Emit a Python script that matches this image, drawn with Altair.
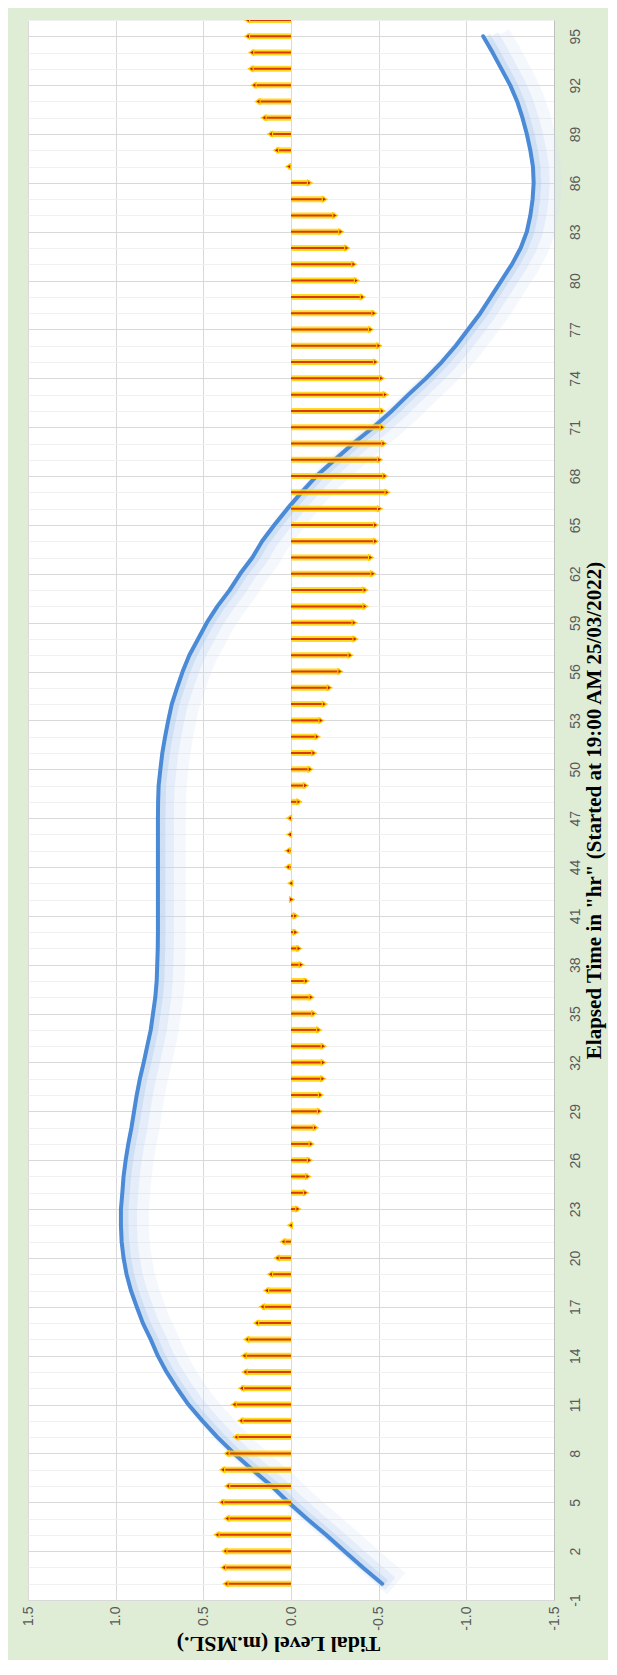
import altair as alt
import pandas as pd

# ---- data ----
hours = list(range(0, 96))
tidal_level = [
    -0.52, -0.41, -0.305, -0.20, -0.09, 0.015, 0.11, 0.22, 0.325, 0.42,
    0.505, 0.585, 0.65, 0.71, 0.76, 0.80, 0.845, 0.88, 0.913, 0.938,
    0.955, 0.966, 0.97, 0.97, 0.962, 0.955, 0.943, 0.928, 0.91, 0.895,
    0.88, 0.862, 0.84, 0.82, 0.80, 0.787, 0.774, 0.766, 0.763, 0.76,
    0.759, 0.759, 0.759, 0.759, 0.759, 0.759, 0.759, 0.759, 0.758, 0.755,
    0.745, 0.734, 0.718, 0.70, 0.68, 0.65, 0.618, 0.58, 0.53, 0.48,
    0.42, 0.35, 0.29, 0.22, 0.165, 0.095, 0.02, -0.06, -0.145, -0.25,
    -0.355, -0.47, -0.575, -0.67, -0.77, -0.86, -0.94, -1.01, -1.08, -1.14,
    -1.20, -1.26, -1.31, -1.345, -1.365, -1.378, -1.384, -1.38, -1.365, -1.345,
    -1.32, -1.29, -1.25, -1.20, -1.15, -1.096,
]

vector_hours = list(range(0, 97))
vector_value = [
    0.373, 0.386, 0.379, 0.424, 0.367, 0.397, 0.363, 0.392, 0.367, 0.316,
    0.288, 0.326, 0.284, 0.264, 0.269, 0.254, 0.198, 0.166, 0.141, 0.119,
    0.081, 0.047, 0.005, -0.041, -0.085, -0.098, -0.107, -0.117, -0.141, -0.164,
    -0.17, -0.183, -0.186, -0.186, -0.16, -0.132, -0.117, -0.089, -0.06, -0.047,
    -0.028, -0.028, -0.005, 0.003, 0.02, 0.02, 0.01, 0.01, -0.047, -0.085,
    -0.111, -0.132, -0.151, -0.173, -0.192, -0.22, -0.281, -0.339, -0.367, -0.362,
    -0.424, -0.424, -0.469, -0.456, -0.484, -0.484, -0.507, -0.55, -0.537, -0.507,
    -0.531, -0.522, -0.522, -0.54, -0.518, -0.484, -0.503, -0.456, -0.475, -0.409,
    -0.375, -0.36, -0.32, -0.286, -0.252, -0.192, -0.107, 0.015, 0.085, 0.119,
    0.156, 0.19, 0.213, 0.23, 0.226, 0.25, 0.25,
]

level_ticks = [-1.5, -1.0, -0.5, 0.0, 0.5, 1.0, 1.5]
hour_ticks = list(range(-1, 97))

x_title = "Tidal Level (m.MSL.)"
y_title = 'Elapsed Time in "hr" (Started at 19:00 AM 25/03/2022)'

tide = pd.DataFrame({"t": hours, "level": tidal_level})
vec = pd.DataFrame({"t": vector_hours, "v": vector_value})
vec["base"] = 0.0
vec["dir"] = ["left" if v >= 0 else "right" for v in vector_value]

W, H = 526, 1580

x_scale = alt.Scale(domain=[-1.5, 1.5], reverse=True, nice=False, zero=False)
y_scale = alt.Scale(domain=[-1, 96], nice=False, zero=False)

x_axis = alt.Axis(
    values=level_ticks, orient="bottom", title=x_title,
    labelExpr="datum.value < 0 ? '-' + format(-datum.value, '.1f') : format(datum.value, '.1f')",
    labelAngle=270, labelAlign="right", labelBaseline="middle", labelPadding=6,
    labelFlush=False, labelOverlap=False,
    labelFont="Liberation Sans", labelFontSize=14, labelColor="#595959",
    ticks=False, domain=False, grid=True, gridColor="#d9d9d9", gridWidth=1,
    titleFont="Liberation Serif", titleFontSize=22, titleFontWeight="bold",
    titleColor="#000000", titleAngle=180, titleAlign="center", titleBaseline="middle",
    titleX=250, titleY=43,
)

y_axis = alt.Axis(
    values=hour_ticks, orient="right", title=y_title,
    labelExpr="(datum.value + 1) % 3 == 0 ? (datum.value < 0 ? '-' + abs(datum.value) : '' + datum.value) : ''",
    labelAngle=270, labelAlign="center", labelBaseline="top", labelPadding=14,
    labelFlush=False, labelOverlap=False,
    labelFont="Liberation Sans", labelFontSize=14, labelColor="#595959",
    ticks=False, domain=True, domainColor="#bfbfbf", domainWidth=1,
    grid=True,
    gridColor={"condition": {"test": "(datum.value + 1) % 3 == 0", "value": "#d9d9d9"},
               "value": "#f0f0f0"},
    gridWidth=1,
    titleFont="Liberation Serif", titleFontSize=21, titleFontWeight="bold",
    titleColor="#000000", titleAngle=270, titleAlign="center", titleBaseline="middle",
    titleX=40, titleY=H / 2,
)


def X(field):
    return alt.X(field, type="quantitative", scale=x_scale, axis=x_axis)


def Y(field):
    return alt.Y(field, type="quantitative", scale=y_scale, axis=y_axis)


tide_base = alt.Chart(tide)

glow_wide = tide_base.mark_line(
    color="#cfdff3", strokeWidth=28, opacity=0.22, xOffset=14,
    strokeCap="butt", strokeJoin="round"
).encode(x=X("level"), y=Y("t"), order="t:Q")

glow_mid = tide_base.mark_line(
    color="#bcd2ef", strokeWidth=16, opacity=0.28, xOffset=8,
    strokeCap="butt", strokeJoin="round"
).encode(x=X("level"), y=Y("t"), order="t:Q")

glow_core = tide_base.mark_line(
    color="#a9c6ec", strokeWidth=9, opacity=0.35, xOffset=3,
    strokeCap="butt", strokeJoin="round"
).encode(x=X("level"), y=Y("t"), order="t:Q")

main_line = tide_base.mark_line(
    color="#4a8ad6", strokeWidth=4, strokeCap="round", strokeJoin="round"
).encode(x=X("level"), y=Y("t"), order="t:Q")

vec_base = alt.Chart(vec)

yellow_rule = vec_base.mark_rule(color="#ffd400", strokeWidth=6, opacity=0.85, clip=True).encode(
    x=X("base"), x2="v:Q", y=Y("t")
)
red_rule = vec_base.mark_rule(color="#d83b01", strokeWidth=2, clip=True).encode(
    x=X("base"), x2="v:Q", y=Y("t")
)
heads = vec_base.mark_point(
    filled=True, fill="#c41a00", stroke="#ffcc00", strokeWidth=1.2, size=30, opacity=1, clip=True
).encode(
    x=X("v"), y=Y("t"),
    shape=alt.Shape("dir:N", scale=alt.Scale(domain=["left", "right"],
                                             range=["triangle-left", "triangle-right"]),
                    legend=None),
)

chart = alt.layer(glow_wide, glow_mid, glow_core, main_line, yellow_rule, red_rule, heads).properties(
    width=W, height=H,
    padding={"left": 20, "top": 12, "right": 54, "bottom": 60},
    autosize=alt.AutoSizeParams(type="none"),
    background="#dfedd6",
).configure_view(fill="white", stroke=None)

chart.save("out.html", embed_options={"renderer": "svg", "actions": False})
